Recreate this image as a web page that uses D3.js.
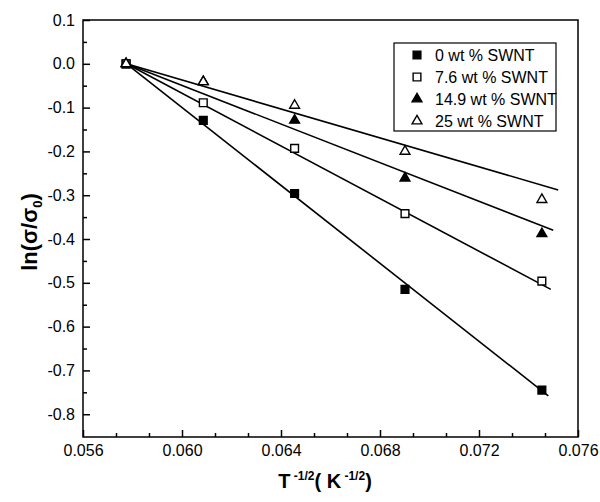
<!DOCTYPE html>
<html>
<head>
<meta charset="utf-8">
<script src="https://cdn.jsdelivr.net/npm/d3@7/dist/d3.min.js"></script>
<style>
  body { margin: 0; background: #fff; }
  text { font-family: "Liberation Sans", Arial, sans-serif; fill: #000; }
</style>
</head>
<body>
<script>
const WIDTH = 600;
const HEIGHT = 502;
const MARGIN = {TOP: 20, RIGHT: 22, BOTTOM: 65, LEFT: 83};
const W = WIDTH - MARGIN.LEFT - MARGIN.RIGHT;
const H = HEIGHT - MARGIN.TOP - MARGIN.BOTTOM;

// T^-1/2 for T = 300, 270, 240, 210, 180 K
var xValues = [0.05774, 0.06086, 0.06455, 0.06901, 0.07454];

var seriesNames = ["0 wt % SWNT", "7.6 wt % SWNT", "14.9 wt % SWNT", "25 wt % SWNT"];
var seriesShapes = ["square", "square", "triangle", "triangle"];
var seriesFilled = [true, false, true, false];

var values0  = [0, -0.129, -0.296, -0.515, -0.745];
var values76 = [0, -0.089, -0.193, -0.342, -0.496];
var values149 = [0, -0.041, -0.129, -0.261, -0.388];
var values25 = [0, -0.041, -0.095, -0.200, -0.310];

// fitted lines: start point shared, end points per series
var fitStartX = 0.05776;
var fitStartY = 0;
var fitEndX = [0.0748, 0.0749, 0.0750, 0.0752];
var fitEndY = [-0.758, -0.515, -0.380, -0.288];

var xTicks = [0.056, 0.060, 0.064, 0.068, 0.072, 0.076];
var yTicks = [0.1, 0.0, -0.1, -0.2, -0.3, -0.4, -0.5, -0.6, -0.7, -0.8];

var allValues = [values0, values76, values149, values25];

var svg = d3.select("body").append("svg")
    .attr("width", WIDTH)
    .attr("height", HEIGHT)
        .append("g")
            .attr("transform", "translate(" + MARGIN.LEFT + "," + MARGIN.TOP + ")");

var x = d3.scaleLinear().domain([0.056, 0.076]).range([0, W]);
var y = d3.scaleLinear().domain([-0.852, 0.1]).range([H, 0]);

// minor ticks: 2 between x majors, 1 between y majors
var xMinor = [];
for (var i = 0; i < xTicks.length - 1; i++) {
    var step = (xTicks[i + 1] - xTicks[i]) / 3;
    xMinor.push(xTicks[i] + step, xTicks[i] + 2 * step);
}
var yMinor = [];
for (var j = 0; j < yTicks.length - 1; j++) {
    yMinor.push((yTicks[j] + yTicks[j + 1]) / 2);
}

svg.append("g")
    .attr("transform", "translate(0," + H + ")")
    .call(d3.axisBottom(x).tickValues(xTicks).tickSize(-7).tickPadding(8)
        .tickFormat(d3.format(".3f")));
svg.append("g")
    .attr("transform", "translate(0," + H + ")")
    .call(d3.axisBottom(x).tickValues(xMinor).tickSize(-4).tickFormat(""));

svg.append("g")
    .call(d3.axisLeft(y).tickValues(yTicks).tickSize(-7).tickPadding(8)
        .tickFormat(d3.format(".1f")));
svg.append("g")
    .call(d3.axisLeft(y).tickValues(yMinor).tickSize(-4).tickFormat(""));

svg.selectAll(".domain").remove();
svg.selectAll(".tick line").attr("stroke", "#000").attr("stroke-width", 1.5);
svg.selectAll(".tick text")
    .style("font-size", "16px")
    .style("font-family", "'Liberation Sans', Arial, sans-serif")
    .text(function() { return d3.select(this).text().replace("\u2212", "-"); });

// frame
svg.append("rect")
    .attr("width", W)
    .attr("height", H)
    .attr("fill", "none")
    .attr("stroke", "#000")
    .attr("stroke-width", 1.5);

// fitted lines
seriesNames.forEach(function(name, k) {
    svg.append("line")
        .attr("x1", x(fitStartX)).attr("y1", y(fitStartY))
        .attr("x2", x(fitEndX[k])).attr("y2", y(fitEndY[k]))
        .attr("stroke", "#000")
        .attr("stroke-width", 1.6);
});

function symbolPath(shape) {
    if (shape === "square") return d3.symbol().type(d3.symbolSquare).size(60)();
    return d3.symbol().type(d3.symbolTriangle).size(42)();
}

function styleMarker(sel, k) {
    sel.attr("d", symbolPath(seriesShapes[k]))
        .attr("fill", seriesFilled[k] ? "#000" : "#fff")
        .attr("stroke", "#000")
        .attr("stroke-width", 1.4);
}

allValues.forEach(function(vals, k) {
    svg.append("g").selectAll("path")
        .data(vals)
        .enter().append("path")
            .attr("transform", function(d, i) {
                return "translate(" + x(xValues[i]) + "," + y(d) + ")";
            })
            .call(styleMarker, k);
});

// legend
var legend = svg.append("g").attr("transform", "translate(" + (394 - MARGIN.LEFT) + "," + (43 - MARGIN.TOP) + ")");
legend.append("rect")
    .attr("width", 162)
    .attr("height", 88)
    .attr("fill", "#fff")
    .attr("stroke", "#000")
    .attr("stroke-width", 1.2);

seriesNames.forEach(function(name, k) {
    var row = legend.append("g").attr("transform", "translate(0," + (12 + k * 22) + ")");
    row.append("path")
        .attr("transform", "translate(23,0)")
        .call(styleMarker, k);
    row.append("text")
        .attr("x", 41)
        .attr("y", 0)
        .attr("dy", "0.36em")
        .style("font-size", "16px")
        .text(name);
});

// axis titles
var xt = svg.append("text")
    .attr("x", 325 - MARGIN.LEFT)
    .attr("y", 488 - MARGIN.TOP)
    .attr("text-anchor", "middle")
    .style("font-size", "20px")
    .style("font-weight", "bold");
xt.append("tspan").text("T");
xt.append("tspan").attr("dy", "-8").style("font-size", "12px").text(" -1/2");
xt.append("tspan").attr("dy", "8").text("( K");
xt.append("tspan").attr("dy", "-8").style("font-size", "12px").text(" -1/2");
xt.append("tspan").attr("dy", "8").text(")");

var yt = svg.append("text")
    .attr("transform", "translate(" + (37 - MARGIN.LEFT) + "," + (232 - MARGIN.TOP) + ") rotate(-90)")
    .attr("text-anchor", "middle")
    .style("font-size", "22px")
    .style("font-weight", "bold");
yt.append("tspan").text("ln(\u03c3/\u03c3");
yt.append("tspan").attr("dy", "5").style("font-size", "13px").text("0");
yt.append("tspan").attr("dy", "-5").text(")");
</script>
</body>
</html>
